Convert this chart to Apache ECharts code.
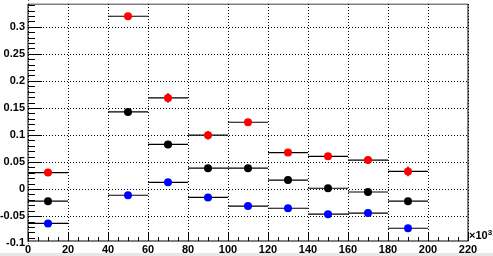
<!DOCTYPE html>
<html>
<head>
<meta charset="utf-8">
<script src="https://cdn.jsdelivr.net/npm/echarts@6/dist/echarts.min.js"></script>
<style>html,body{margin:0;padding:0;background:#fff;overflow:hidden}#c{width:493px;height:256px;}</style>
</head>
<body>
<div id="c"></div>
<script>
// bin centres (x in units of 10^3) and half bin width
const binCenters = [10, 50, 70, 90, 110, 130, 150, 170, 190];
const binHalfWidth = [10, 10, 10, 10, 10, 10, 10, 10, 10];
// series values
const redValues   = [0.031, 0.320, 0.169, 0.100, 0.124, 0.068, 0.061, 0.054, 0.033];
const redErrors   = [0.005, 0.006, 0.009, 0.008, 0.006, 0.005, 0.006, 0.007, 0.009];
const blackValues = [-0.022, 0.143, 0.083, 0.039, 0.039, 0.017, 0.002, -0.005, -0.022];
const blackErrors = [0.004, 0.004, 0.005, 0.005, 0.004, 0.004, 0.004, 0.005, 0.005];
const blueValues  = [-0.063, -0.011, 0.013, -0.015, -0.031, -0.035, -0.046, -0.044, -0.072];
const blueErrors  = [0.004, 0.004, 0.005, 0.005, 0.004, 0.004, 0.004, 0.006, 0.005];
// tick labels
const yTickLabels = ['-0.1', '-0.05', '0', '0.05', '0.1', '0.15', '0.2', '0.25', '0.3'];
const xTickLabels = ['0', '20', '40', '60', '80', '100', '120', '140', '160', '180', '200', '220'];

function rows(vals, errs) {
  return binCenters.map((x, i) => [x, vals[i], binHalfWidth[i], errs[i]]);
}

function renderErr(params, api) {
  const x = api.value(0), y = api.value(1), xe = api.value(2), ye = api.value(3);
  const l = api.coord([x - xe, y]), r = api.coord([x + xe, y]);
  const t = api.coord([x, y + ye]), b = api.coord([x, y - ye]);
  const style = {stroke: '#000', lineWidth: 1.2};
  return {type: 'group', children: [
    {type: 'line', shape: {x1: l[0], y1: l[1], x2: r[0], y2: r[1]}, style: style},
    {type: 'line', shape: {x1: t[0], y1: t[1], x2: b[0], y2: b[1]}, style: style}]};
}

const font = {color: '#000', fontWeight: 700, fontSize: 11, fontFamily: 'Arial'};
const black = {color: '#000', width: 1};
const dotted = {color: '#000', type: [1, 2], width: 1};

const chart = echarts.init(document.getElementById('c'), null, {renderer: 'canvas'});
const series = [];
const sets = [[redValues, redErrors, '#ff0000'], [blackValues, blackErrors, '#000000'], [blueValues, blueErrors, '#0000ff']];
sets.forEach(([v, e]) => {
  series.push({type: 'custom', xAxisIndex: 1, yAxisIndex: 1, renderItem: renderErr, data: rows(v, e), z: 2, silent: true});
});
sets.forEach(([v, e, col]) => {
  series.push({type: 'scatter', xAxisIndex: 1, yAxisIndex: 1, data: rows(v, e), symbol: 'circle', symbolSize: 8,
    itemStyle: {color: col, opacity: 1}, z: 3, silent: true});
});

chart.setOption({
  animation: false,
  backgroundColor: '#fff',
  grid: [
    // frame grid
    {left: 28, right: 25, top: 4, bottom: 15, outerBoundsMode: 'none', containLabel: false,
      show: true, borderColor: '#000', borderWidth: 1, backgroundColor: 'transparent'},
    // data grid (y from -0.1 to 0.35)
    {left: 28, right: 25, top: 0, bottom: 12.6, outerBoundsMode: 'none', containLabel: false, show: false}
  ],
  xAxis: [
    {gridIndex: 0, type: 'value', min: 0, max: 220, interval: 20, position: 'bottom',
      axisLine: {show: true, onZero: false, lineStyle: black},
      axisTick: {show: true, inside: true, length: 9, lineStyle: black},
      minorTick: {show: true, splitNumber: 4, length: 4, lineStyle: black},
      splitLine: {show: true, lineStyle: dotted},
      axisLabel: Object.assign({margin: 3, formatter: (v) => xTickLabels[Math.round(v / 20)] || ''}, font)},
    {gridIndex: 1, type: 'value', min: 0, max: 220, show: false}
  ],
  yAxis: [
    {gridIndex: 0, type: 'value', min: -0.0956, max: 0.342, show: false},
    {gridIndex: 1, type: 'value', min: -0.1, max: 0.35, interval: 0.05,
      axisLine: {show: false},
      axisTick: {show: true, inside: true, length: 14, lineStyle: black},
      minorTick: {show: true, splitNumber: 5, length: 7, lineStyle: black},
      splitLine: {show: true, lineStyle: dotted},
      axisLabel: Object.assign({margin: 3, showMinLabel: true, showMaxLabel: true,
        formatter: (v) => yTickLabels[Math.round((v + 0.1) / 0.05)] || ''}, font)}
  ],
  graphic: [
    // mask the parts of the data grid lying outside the frame
    {type: 'rect', z: 100, shape: {x: 28.6, y: 0, width: 440, height: 3.4}, style: {fill: '#fff'}},
    {type: 'rect', z: 100, shape: {x: 28.6, y: 241.6, width: 440, height: 2.9}, style: {fill: '#fff'}},
    {type: 'text', z: 101, left: 469, top: 229, style: {
      text: '×10{s|3}', fill: '#000', font: 'bold 11px Arial',
      rich: {s: {fontSize: 8, fontWeight: 'bold', verticalAlign: 'top', padding: [0, 0, 6, 0], fill: '#000', fontFamily: 'Arial'}}
    }},
    {type: 'rect', z: -1, shape: {x: 0, y: 253, width: 493, height: 3}, style: {fill: '#e6e6e6'}}
  ],
  series: series
});
</script>
</body>
</html>
